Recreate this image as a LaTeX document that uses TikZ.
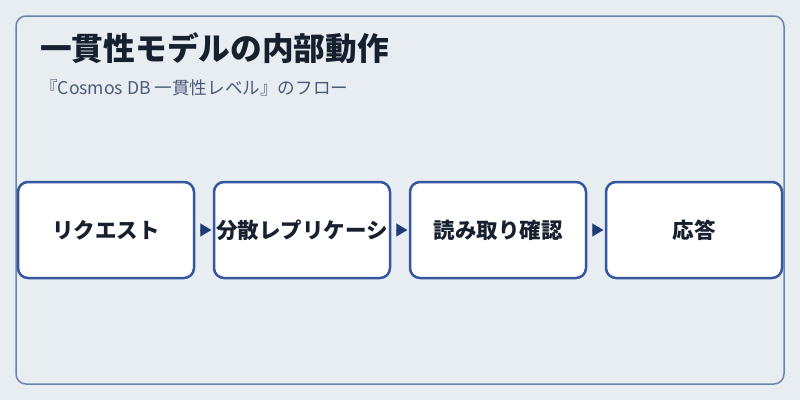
\documentclass[tikz,border=0pt]{standalone}
\usepackage{fontspec}
\newfontfamily\cjk{Noto Sans CJK JP}
\usetikzlibrary{arrows.meta}
\definecolor{bgpanel}{HTML}{E8EDF2}
\definecolor{framecol}{HTML}{6B84AC}
\definecolor{boxblue}{HTML}{3457A0}
\definecolor{arrowblue}{HTML}{1F3A78}
\definecolor{ink}{HTML}{16202E}
\definecolor{subink}{HTML}{4A5B78}
\begin{document}
\begin{tikzpicture}[x=1pt, y=-1pt,
    stage/.style={draw=boxblue, line width=2.5pt, rounded corners=10pt, fill=white,
      minimum width=176pt, minimum height=96pt, inner sep=0pt, text=ink,
      font=\cjk\bfseries\fontsize{21.5}{26}\selectfont},
    flow/.style={-{Triangle[length=11pt,width=13pt]}, draw=arrowblue, fill=arrowblue,
      line width=0.1pt, shorten >=1.5pt, shorten <=6pt}]
    \fill[bgpanel] (0,0) rectangle (800,400);
    \useasboundingbox (0,0) rectangle (800,400);
    \draw[framecol, line width=1.5pt, rounded corners=10pt] (16,16) rectangle (784,384);
    \node[anchor=west, inner sep=0pt, text=ink, font=\cjk\bfseries\fontsize{31.7}{36}\selectfont]
      (title) at (40,48) {一貫性モデルの内部動作};
    \node[anchor=west, inner sep=0pt, text=subink, font=\cjk\fontsize{17.6}{21}\selectfont]
      (subtitle) at (40,88) {『Cosmos DB 一貫性レベル』のフロー};
    % flow stages
    \foreach \i/\x/\txt in {1/106/リクエスト, 2/302/分散レプリケーシ, 3/498/読み取り確認, 4/694/応答}{
      \node[stage] (s\i) at (\x,230) {\txt};
    }
    \foreach \a/\b in {1/2, 2/3, 3/4}{
      \draw[flow] (s\a.east) -- (s\b.west);
    }
\end{tikzpicture}
\end{document}
